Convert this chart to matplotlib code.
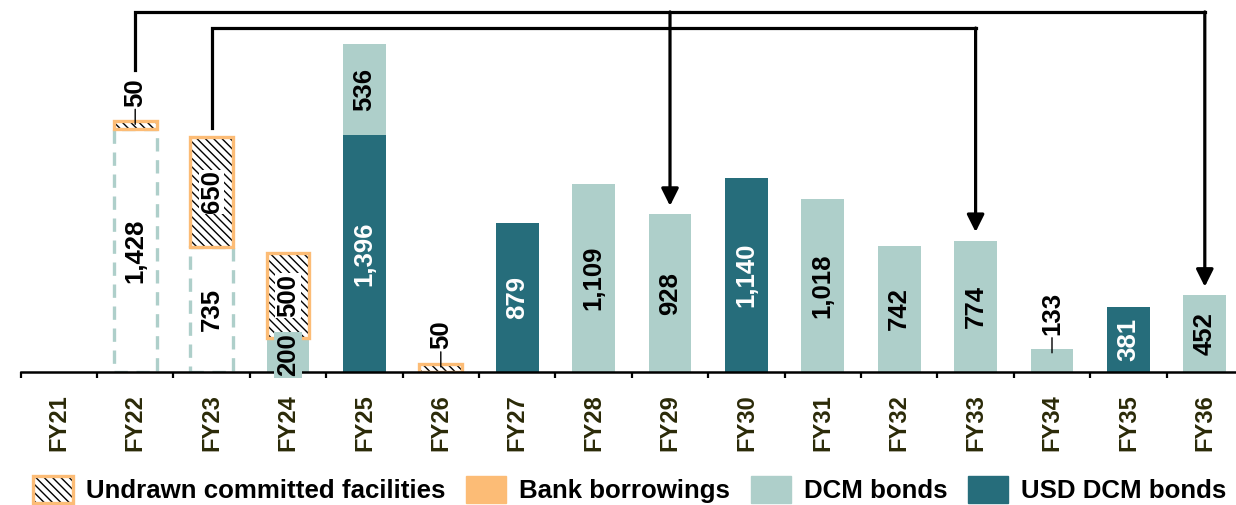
import numpy as np
import matplotlib
matplotlib.use('Agg')
import matplotlib.pyplot as plt
from matplotlib.patches import Patch

plt.rcParams['font.family'] = ['Liberation Sans', 'DejaVu Sans']
plt.rcParams['font.weight'] = 'bold'
plt.rcParams['hatch.linewidth'] = 1.0

years = ['FY21', 'FY22', 'FY23', 'FY24', 'FY25', 'FY26', 'FY27', 'FY28',
         'FY29', 'FY30', 'FY31', 'FY32', 'FY33', 'FY34', 'FY35', 'FY36']
usd_dcm = [0, 0, 0, 0, 1396, 0, 879, 0, 0, 1140, 0, 0, 0, 0, 381, 0]
dcm = [0, 0, 0, 200, 536, 0, 0, 1109, 928, 0, 1018, 742, 774, 133, 0, 452]
refinanced = [0, 1428, 735, 0, 0, 0, 0, 0, 0, 0, 0, 0, 0, 0, 0, 0]
undrawn = [0, 50, 650, 500, 0, 50, 0, 0, 0, 0, 0, 0, 0, 0, 0, 0]

c_dcm = '#AECFCA'
c_usd = '#266D7B'
c_bank = '#FCBC76'
c_tick = '#2B2A08'

usd_dcm = np.array(usd_dcm)
dcm = np.array(dcm)
refinanced = np.array(refinanced)
undrawn = np.array(undrawn)
x = np.arange(len(years))
w = 0.56

fig = plt.figure(figsize=(12.36, 5.05), dpi=100)
ax = fig.add_axes([20.6 / 1236, 133 / 505, 16 * 76.4 / 1236, 372 / 505])

b1 = np.zeros(len(x))
b2 = b1 + usd_dcm
b3 = b2 + dcm
b4 = b3 + refinanced
total = b4 + undrawn

m = usd_dcm > 0
ax.bar(x[m], usd_dcm[m], w, bottom=b1[m], color=c_usd, linewidth=0)
m = dcm > 0
ax.bar(x[m], dcm[m], w, bottom=b2[m], color=c_dcm, linewidth=0)
m = refinanced > 0
ax.bar(x[m], refinanced[m], w, bottom=b3[m], fill=False, edgecolor=c_dcm,
       linewidth=2.4, linestyle=(0, (4, 2.6)))
m = undrawn > 0
ax.bar(x[m], undrawn[m], w, bottom=b4[m], color='white', edgecolor='black',
       hatch='\\\\\\\\', linewidth=0)
ax.bar(x[m], undrawn[m], w, bottom=b4[m], fill=False, edgecolor=c_bank,
       linewidth=2.4)

fs = 18.5


def lab(i, v, yc, color='black', **kw):
    ax.text(x[i], yc, f'{v:,}', rotation=90, ha='center', va='center',
            fontsize=fs, fontweight='bold', color=color, **kw)


def lab_above(i, v, ytop):
    ax.annotate(f'{v:,}', xy=(x[i], ytop - 20), xytext=(x[i], ytop + 85),
                rotation=90, ha='center', va='bottom', fontsize=fs,
                fontweight='bold',
                arrowprops=dict(arrowstyle='-', color='black', lw=1.0,
                                shrinkA=0, shrinkB=0))


for i in range(len(x)):
    if usd_dcm[i]:
        lab(i, usd_dcm[i], b1[i] + usd_dcm[i] / 2, color='white')
    if dcm[i]:
        if dcm[i] < 150:
            lab_above(i, dcm[i], b3[i])
        elif dcm[i] < 300:
            lab(i, dcm[i], b2[i] + dcm[i] / 2,
                bbox=dict(facecolor=c_dcm, edgecolor='none', pad=1.5))
        else:
            lab(i, dcm[i], b2[i] + dcm[i] / 2)
    if refinanced[i]:
        lab(i, refinanced[i], b3[i] + refinanced[i] / 2)
    if undrawn[i]:
        if undrawn[i] < 150:
            lab_above(i, undrawn[i], total[i])
        else:
            lab(i, undrawn[i], b4[i] + undrawn[i] / 2,
                bbox=dict(facecolor='white', edgecolor='none', pad=0.5))

# refinancing arrows
y_top1 = 2120
y_top2 = 2025
lw_arrow = 2.3
src1, dst1 = 1, [8, 15]
src2, dst2 = 2, [12]
ax.plot([x[src1], x[src1], x[dst1[-1]]], [1775, y_top1, y_top1],
        color='black', lw=lw_arrow, clip_on=False, solid_joinstyle='miter')
ax.plot([x[src2], x[src2], x[dst2[-1]]], [total[src2] + 50, y_top2, y_top2],
        color='black', lw=lw_arrow, clip_on=False, solid_joinstyle='miter')
for d, yt in [(dst1[0], y_top1), (dst1[1], y_top1), (dst2[0], y_top2)]:
    ax.annotate('', xy=(x[d], total[d] + 50), xytext=(x[d], yt),
                arrowprops=dict(arrowstyle='-|>', color='black', lw=lw_arrow,
                                mutation_scale=26, shrinkA=0, shrinkB=0),
                annotation_clip=False)

ax.set_xlim(-0.5, len(x) - 0.5)
ax.set_ylim(0, 2190)
for s in ['top', 'right', 'left']:
    ax.spines[s].set_visible(False)
ax.spines['bottom'].set_linewidth(1.8)
ax.set_yticks([])
ax.set_xticks(x)
ax.set_xticklabels(years, rotation=90, fontsize=17, fontweight='bold',
                   color=c_tick)
ax.set_xticks(np.arange(len(x) + 1) - 0.5, minor=True)
ax.tick_params(axis='x', which='major', length=0, pad=16)
ax.tick_params(axis='x', which='minor', length=4.5, width=1.6,
               direction='out', color='black')

h_undrawn = (Patch(facecolor='white', edgecolor='black', hatch='\\\\\\\\', linewidth=0),
             Patch(facecolor='none', edgecolor=c_bank, linewidth=2.4))
handles = [h_undrawn, Patch(color=c_bank), Patch(color=c_dcm), Patch(color=c_usd)]
labels = ['Undrawn committed facilities', 'Bank borrowings', 'DCM bonds',
          'USD DCM bonds']
fig.legend(handles, labels, loc='center', bbox_to_anchor=(0.5095, 0.03),
           ncol=4, frameon=False, fontsize=18.6, handlelength=1.55,
           handleheight=1.2, handletextpad=0.5, columnspacing=0.8,
           borderaxespad=0, borderpad=0)

fig.savefig('out.png', dpi=100)
